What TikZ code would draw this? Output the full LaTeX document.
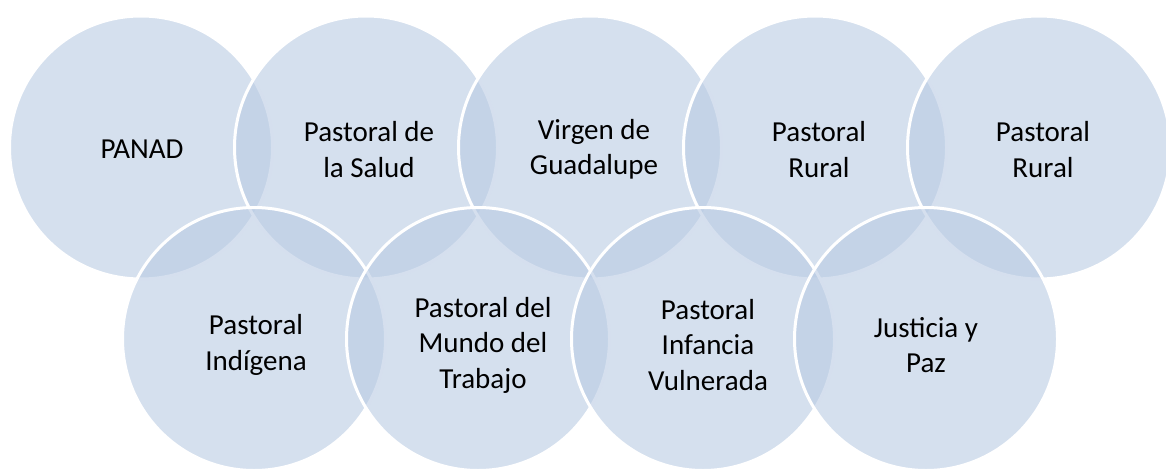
\documentclass[tikz,border=0pt]{standalone}
\usepackage{fontspec}
\setmainfont{Carlito}
\definecolor{vennfill}{RGB}{185,203,227}
\begin{document}
\begin{tikzpicture}[x=1pt,y=-1pt,
  venn/.style={circle,minimum size=263pt,inner sep=0pt,outer sep=0pt,
    fill=vennfill,fill opacity=0.6,draw=white,draw opacity=1,line width=3pt},
  lbl/.style={align=center,font=\fontsize{29}{35.5}\selectfont,text=black,inner sep=0pt}]
\useasboundingbox (0,0) rectangle (1166,473);
% top row
\node[venn] (c1) at (141,147.5) {};
\node[venn] (c2) at (366,147.5) {};
\node[venn] (c3) at (590,147.5) {};
\node[venn] (c4) at (815,147.5) {};
\node[venn] (c5) at (1039,147.5) {};
% bottom row
\node[venn] (d1) at (254,339) {};
\node[venn] (d2) at (478,339) {};
\node[venn] (d3) at (703,339) {};
\node[venn] (d4) at (926,339) {};
% labels
\node[lbl] (t1) at ([shift={(1,2)}]c1.center) {PANAD};
\node[lbl] (t2) at ([shift={(3,2)}]c2.center) {Pastoral de\\la Salud};
\node[lbl] (t3) at ([shift={(4,2)}]c3.center) {Virgen de\\Guadalupe};
\node[lbl] (t4) at ([shift={(4,2)}]c4.center) {Pastoral\\Rural};
\node[lbl] (t5) at ([shift={(4,2)}]c5.center) {Pastoral\\Rural};
\node[lbl] (u1) at ([shift={(2,6)}]d1.center) {Pastoral\\Indígena};
\node[lbl] (u2) at ([shift={(5,6)}]d2.center) {Pastoral del\\Mundo del\\Trabajo};
\node[lbl] (u3) at ([shift={(5,6)}]d3.center) {Pastoral\\Infancia\\Vulnerada};
\node[lbl] (u4) at ([shift={(0,6)}]d4.center) {Justicia y\\Paz};
\end{tikzpicture}
\end{document}
